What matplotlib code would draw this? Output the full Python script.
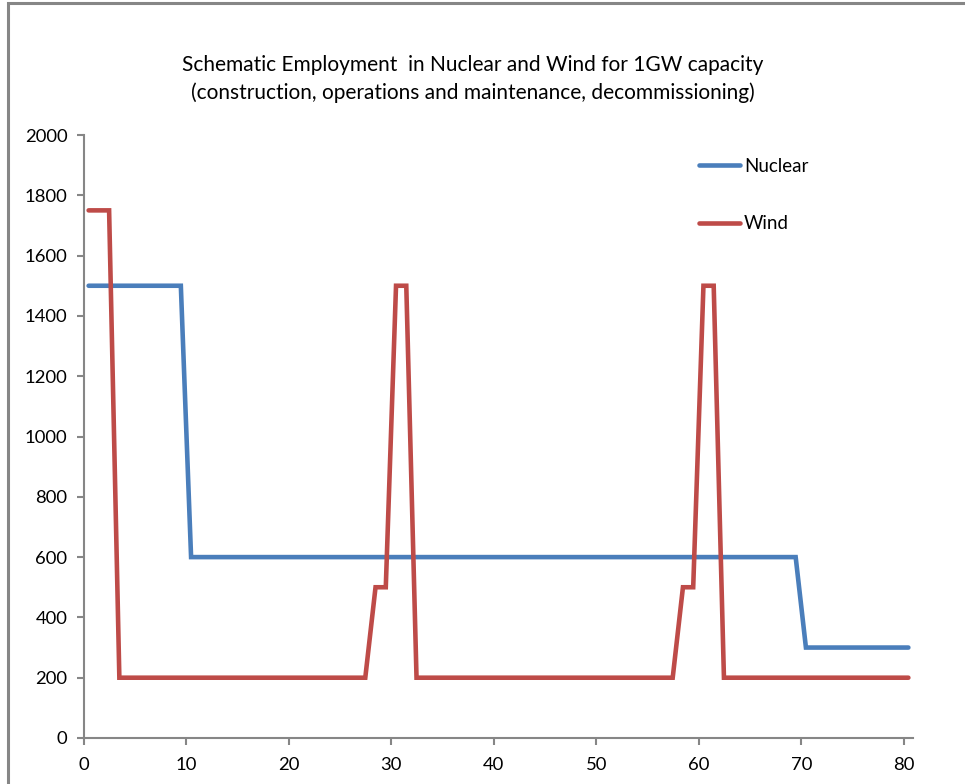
import matplotlib
matplotlib.use("Agg")
import matplotlib.pyplot as plt
from matplotlib.patches import Rectangle

plt.rcParams['font.family'] = ['Lato', 'DejaVu Sans']

# Data (years, employment)
nuclear_x = [0, 9, 10, 69, 70, 80]
nuclear_y = [1500, 1500, 600, 600, 300, 300]
wind_x = [0, 2, 3, 27, 28, 29, 30, 31, 32, 57, 58, 59, 60, 61, 62, 80]
wind_y = [1750, 1750, 200, 200, 500, 500, 1500, 1500, 200, 200, 500, 500, 1500, 1500, 200, 200]
series_names = ["Nuclear", "Wind"]
x_ticks = [0, 10, 20, 30, 40, 50, 60, 70, 80]
y_ticks = [0, 200, 400, 600, 800, 1000, 1200, 1400, 1600, 1800, 2000]
title = ("Schematic Employment  in Nuclear and Wind for 1GW capacity\n"
         "(construction, operations and maintenance, decommissioning)")

W, H = 965, 784
fig = plt.figure(figsize=(W / 100, H / 100), dpi=100)
fig.patch.set_facecolor('white')

# chart border
fig.patches.append(Rectangle((7.5 / W, -0.05), 1.1, 1 - 2.5 / H + 0.05,
                             transform=fig.transFigure, fill=False,
                             edgecolor='#868686', linewidth=2.2))

ax = fig.add_axes([84 / W, 1 - 738 / H, (913 - 84) / W, (738 - 135) / H])
off = 0.45
ax.plot([v + off for v in nuclear_x], nuclear_y, color='#4A7EBB', lw=3.3,
        solid_capstyle='round', solid_joinstyle='miter', label=series_names[0])
ax.plot([v + off for v in wind_x], wind_y, color='#BE4B48', lw=3.3,
        solid_capstyle='round', solid_joinstyle='miter', label=series_names[1])

ax.set_xlim(0, 80.9)
ax.set_ylim(0, 2000)
ax.set_xticks(x_ticks)
ax.set_yticks(y_ticks)
for s in ['top', 'right']:
    ax.spines[s].set_visible(False)
for s in ['left', 'bottom']:
    ax.spines[s].set_color('#868686')
    ax.spines[s].set_linewidth(1.5)
ax.tick_params(axis='both', colors='#868686', width=1.5, length=5,
               labelcolor='black', labelsize=13.3)
ax.tick_params(axis='x', pad=9)
ax.tick_params(axis='y', pad=7)

fig.text(473 / W, 1 - 79 / H, title, ha='center', va='center', fontsize=15,
         linespacing=1.45, color='black')

leg = ax.legend(loc='upper left', bbox_to_anchor=(699 / W, 1 - 158 / H),
                bbox_transform=fig.transFigure, frameon=False,
                handlelength=2.2, handletextpad=0.2, labelspacing=2.15,
                fontsize=13.5, borderpad=0, borderaxespad=0)

fig.savefig('out.png', dpi=100)
